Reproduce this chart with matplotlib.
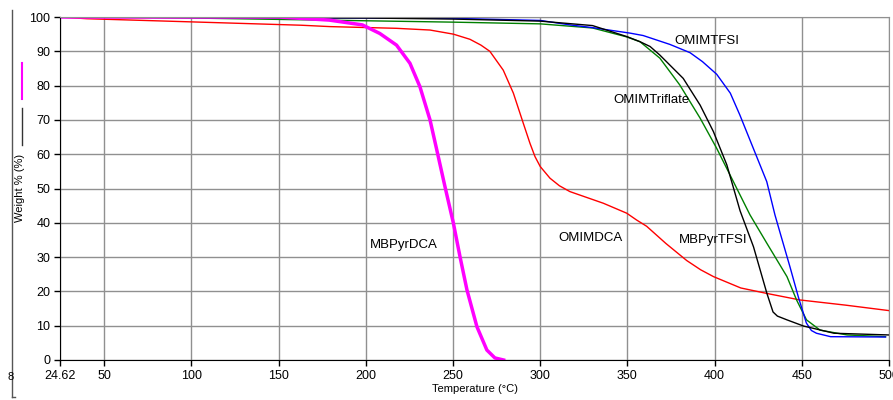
import numpy as np
import matplotlib.pyplot as plt
from matplotlib.lines import Line2D

plt.rcParams['font.family'] = ['Liberation Sans', 'DejaVu Sans']

# temperature (C) / weight % readings per sample
mbpyrdca_t = [24.62, 150, 179, 198, 208, 217.6, 225.3, 231, 236.8, 240.7, 245.4, 250.2, 254, 258,
              263.7, 269.4, 274, 279]
mbpyrdca_w = [100, 100, 99.1, 97.7, 95.2, 91.8, 86.5, 79.7, 70, 61.2, 50.5, 39.9, 30.1, 20.4,
              9.7, 2.9, 0.6, 0]

omimdca_t = [24.62, 40, 105, 163, 179.4, 217.6, 236.8, 250.2, 259.7, 266, 271.1, 278.8, 284.6, 290.3,
             294.1, 297, 300, 305.6, 311, 317, 336.2, 349.6, 355.3, 361, 372, 384, 392, 399.4, 415,
             430, 449, 475, 500]
omimdca_w = [100, 99.5, 98.5, 97.6, 97.2, 96.7, 96.2, 95, 93.5, 91.8, 90, 84.5, 77.8, 69,
             63.2, 59.3, 56.4, 53, 50.8, 49.1, 45.7, 42.8, 40.8, 39, 34, 29, 26.3, 24.3, 21,
             19.4, 17.5, 16, 14.4]

omimtriflate_t = [24.62, 100, 200, 250, 300, 330, 349.6, 357.2, 368.6, 380, 391.7, 401.2, 408.9,
                  420.3, 430, 441.5, 447, 452.7, 460.5, 476, 498]
omimtriflate_w = [100, 99.7, 98.9, 98.5, 98, 96.8, 94.2, 92.8, 88, 80.2, 70.5, 61.7, 53.9,
                  42.3, 34, 24.3, 17.5, 11.7, 8.7, 7.3, 6.8]

mbpyrtfsi_t = [24.62, 200, 250, 300, 330, 349.6, 357.2, 363, 368.6, 382, 391.7, 399.3, 407, 414.6,
               422.3, 430, 433.5, 436, 441.5, 451, 468.5, 500]
mbpyrtfsi_w = [100, 99.7, 99.4, 98.8, 97.5, 94.3, 92.8, 91.4, 88.9, 82.1, 74.3, 66.6, 56.9, 43.5,
               33, 19.4, 14, 12.8, 11.7, 9.9, 7.8, 7.3]

omimtfsi_t = [24.62, 250, 300, 317, 330, 351.5, 359, 374.4, 385.9, 393, 401.2, 409, 414.5, 422.2,
              429.9, 434.6, 437.6, 443.3, 448, 452.6, 455.5, 458.4, 466.5, 498]
omimtfsi_w = [100, 99.6, 99, 97.7, 96.9, 95.3, 94.6, 92, 89.6, 87, 83.3, 77.8, 71.4, 61.7,
              52, 42.3, 37, 27, 18.4, 10.8, 8.6, 7.8, 6.8, 6.7]

xticks = [24.62, 50, 100, 150, 200, 250, 300, 350, 400, 450, 500]
xticklabels = ['24.62', '50', '100', '150', '200', '250', '300', '350', '400', '450', '500']
yticks = list(range(0, 101, 10))

fig = plt.figure(figsize=(8.93, 4.0), dpi=100)
ax = fig.add_axes([60 / 893, 40 / 400, 829 / 893, 343 / 400])

ax.plot(omimdca_t, omimdca_w, color='#ff0000', lw=1)
ax.plot(omimtriflate_t, omimtriflate_w, color='#008000', lw=1)
ax.plot(omimtfsi_t, omimtfsi_w, color='#0000ff', lw=1)
ax.plot(mbpyrtfsi_t, mbpyrtfsi_w, color='black', lw=1)
ax.plot(mbpyrdca_t, mbpyrdca_w, color='#ff00ff', lw=2.5)

ax.set_xlim(24.62, 500)
ax.set_ylim(0, 100)
ax.set_xticks(xticks)
ax.set_xticklabels(xticklabels)
ax.set_yticks(yticks)
ax.tick_params(labelsize=9, length=4, width=1, colors='black', pad=3)
ax.grid(True, color='#909090', lw=1)
ax.set_axisbelow(True)
for s in ['top', 'right']:
    ax.spines[s].set_color('#909090')
for s in ['left', 'bottom']:
    ax.spines[s].set_color('black')
ax.set_xlabel('Temperature (°C)', fontsize=8, labelpad=2)

# curve labels
ax.text(395.5, 93, 'OMIMTFSI', fontsize=9.5, ha='center', va='center')
ax.text(364, 75.8, 'OMIMTriflate', fontsize=9.5, ha='center', va='center')
ax.text(222, 33.5, 'MBPyrDCA', fontsize=9.5, ha='center', va='center')
ax.text(329, 35.6, 'OMIMDCA', fontsize=9.5, ha='center', va='center')
ax.text(399, 35, 'MBPyrTFSI', fontsize=9.5, ha='center', va='center')

# left side bits
fig.text(20 / 893, 1 - 188 / 400, 'Weight % (%)', rotation=90, fontsize=8, ha='center', va='center')
fig.add_artist(Line2D([12 / 893, 12 / 893], [1 - 10 / 400, 1 - 397 / 400], color='#555555', lw=1))
fig.add_artist(Line2D([12 / 893, 15 / 893], [1 - 397 / 400, 1 - 397 / 400], color='#555555', lw=1))
fig.add_artist(Line2D([22 / 893, 22 / 893], [1 - 63 / 400, 1 - 99 / 400], color='#ff00ff', lw=1.5))
fig.add_artist(Line2D([22 / 893, 22 / 893], [1 - 108 / 400, 1 - 145 / 400], color='#333333', lw=1))
fig.text(11 / 893, 1 - 377 / 400, '8', fontsize=8, ha='center', va='center')

fig.savefig('out.png', dpi=100)
